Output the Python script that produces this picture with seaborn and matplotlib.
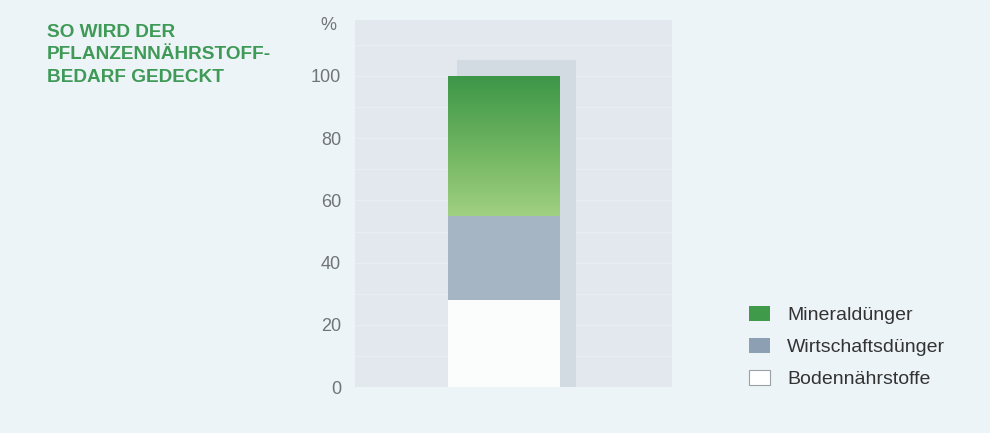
import numpy as np
import matplotlib
matplotlib.use("Agg")
import matplotlib.pyplot as plt
from matplotlib.patches import Patch
import seaborn as sns

# Data (percent of nutrient demand)
category = ["Bedarf"]
sources = ["Bodennährstoffe", "Wirtschaftsdünger", "Mineraldünger"]
shares = [28, 27, 45]
yticks = [0, 20, 40, 60, 80, 100]
title = "SO WIRD DER\nPFLANZENNÄHRSTOFF-\nBEDARF GEDECKT"

page_bg = "#edf4f8"
panel_bg = "#e2e8ed"
shadow_c = "#d2dae2"
colors = {"Bodennährstoffe": "#fbfdfd", "Wirtschaftsdünger": "#a6b5c4", "Mineraldünger": "#4a9f52"}

sns.set_theme(style="white")
plt.rcParams["font.family"] = ["Liberation Sans", "DejaVu Sans"]

fig = plt.figure(figsize=(9.9, 4.33), dpi=100, facecolor=page_bg)
ax = fig.add_axes([0.3586, 0.106, 0.320, 0.848])
ax.set_facecolor(panel_bg)

# faint stripes in the panel
for yy in np.arange(10, 120, 10):
    ax.axhline(yy, color="white", lw=0.8, alpha=0.22, zorder=0)

# shadow behind the stacked bar
total = sum(shares)
ax.bar(0.09, total + 5, width=0.85, color=shadow_c, linewidth=0, zorder=1)

bottom = 0
patches = {}
for src, val in zip(sources, shares):
    sns.barplot(x=category, y=[val], bottom=bottom, color=colors[src],
                width=0.8, saturation=1, ax=ax, zorder=2, linewidth=0)
    patches[src] = ax.patches[-1]
    bottom += val

# green gradient on the mineral fertilizer part (light at bottom, dark at top)
p = patches["Mineraldünger"]
x0, y0 = p.get_x(), p.get_y()
w, h = p.get_width(), p.get_height()
grad = np.linspace(0, 1, 256).reshape(-1, 1)
cmap = matplotlib.colors.LinearSegmentedColormap.from_list("g", ["#a0d082", "#6db35f", "#3c9648"])
im = ax.imshow(grad, cmap=cmap, extent=[x0, x0 + w, y0, y0 + h], origin="lower",
               aspect="auto", zorder=3)
im.set_clip_path(p)
p.set_alpha(0)

ax.set_xlim(-1.065, 1.2)
ax.set_ylim(0, 118)
ax.set_xticks([])
ax.set_yticks(yticks)
ax.set_yticklabels([str(t) for t in yticks], fontsize=13, color="#707478")
ax.tick_params(axis="y", length=0, pad=10)
ax.set_xlabel("")
ax.set_ylabel("")
sns.despine(ax=ax, left=True, bottom=True)
ax.text(-0.06, 0.985, "%", transform=ax.transAxes, ha="right", va="center",
        fontsize=13, color="#707478")

fig.text(0.047, 0.945, title, ha="left", va="top", fontsize=13.7,
         fontweight="bold", color="#3f9a57", linespacing=1.42)

handles = [Patch(facecolor="#3f9a4a", edgecolor="none"),
           Patch(facecolor="#8d9fb2", edgecolor="none"),
           Patch(facecolor="white", edgecolor="#9aa2a8", linewidth=0.8)]
fig.legend(handles, ["Mineraldünger", "Wirtschaftsdünger", "Bodennährstoffe"],
           loc="upper left", bbox_to_anchor=(0.739, 0.334), frameon=False,
           fontsize=14, handlelength=1.1, handleheight=0.8, handletextpad=0.85,
           labelspacing=0.72, labelcolor="#333333")

fig.savefig("out.png", dpi=100, facecolor=page_bg)
